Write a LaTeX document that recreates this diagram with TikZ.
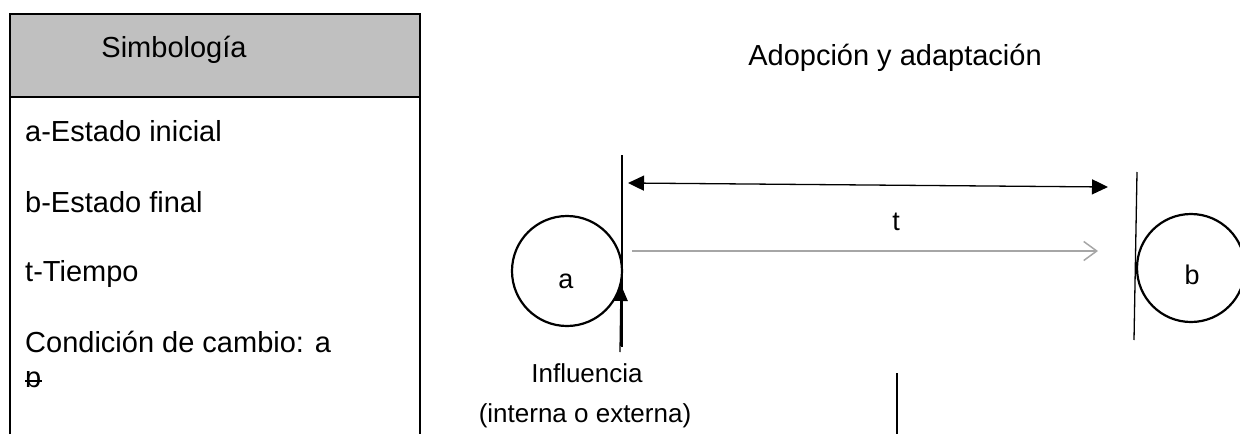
\documentclass[tikz,border=0pt]{standalone}
\usepackage{fontspec}
\setmainfont{Liberation Sans}
\usetikzlibrary{arrows.meta}
\definecolor{hdrgray}{HTML}{C0C0C0}
\definecolor{arrgray}{HTML}{A6A6A6}
\tikzset{
  big/.style={font=\fontsize{29}{34}\selectfont, inner sep=0pt, anchor=base},
  legend/.style={font=\fontsize{29}{34}\selectfont, inner sep=0pt, anchor=base west},
  mid/.style={font=\fontsize{26}{30}\selectfont, inner sep=0pt, anchor=base},
  letter/.style={font=\fontsize{27}{32}\selectfont, inner sep=0pt, anchor=base},
  frame/.style={line width=2pt, black},
  state/.style={circle, draw, line width=2.2pt, minimum size=#1, inner sep=0pt},
  thin/.style={line width=1.3pt, black},
  blacktip/.style={-{Triangle[length=16pt, width=14pt]}},
}
\begin{document}
\begin{tikzpicture}[x=1pt, y=-1pt]
\useasboundingbox (0,0) rectangle (1240,434);
% legend box
\fill[hdrgray] (10,14) rectangle (420,97);
\draw[frame] (10,434) -- (10,14) -- (420,14) -- (420,434);
\draw[frame] (10,97) -- (420,97);
\node[big] (simb) at (174,57) {Simbología};
\node[legend] (la) at (25,141) {a-Estado inicial};
\node[legend] (lb) at (25,212) {b-Estado final};
\node[legend] (lt) at (25,281) {t-Tiempo};
\node[legend] (lc) at (25,352) {Condición de cambio: a};
\begin{scope}
  \clip (15,371) rectangle (60,395);
  \node[legend] (lbb) at (25,387) {b};
\end{scope}
\draw[line width=1.3pt] (25,381) -- (42,381);
% title
\node[big] (title) at (895,65) {Adopción y adaptación};
% states
\node[state=110pt] (a) at (567,271) {};
\node[letter] (alab) at (566,288) {a};
\node[state=108pt] (b) at (1191,268) {};
\node[letter] (blab) at (1192,284) {b};
% vertical limit lines
\coordinate (l1t) at (622,155);
\coordinate (l1b) at (622,347);
\coordinate (l2t) at (1137,172);
\coordinate (l2b) at (1134,340);
\draw[thin] (l1t) -- (l1b);
\draw[thin] (l2t) -- (l2b);
% time double arrow
\coordinate (dL) at (628,183);
\coordinate (dR) at (1108,187);
\draw[thin, {Triangle[length=16pt, width=15pt]}-{Triangle[length=16pt, width=15pt]}] (dL) -- (dR);
\node[letter] (tlab) at (896,230) {t};
% gray transition arrow
\coordinate (gS) at (632,251);
\coordinate (gE) at (1098,251);
\draw[arrgray, line width=1.5pt, -{Straight Barb[length=13pt, width=19pt, line width=1.5pt]}] (gS) -- (gE);
% influence arrow
\coordinate (iS) at (620,352);
\coordinate (iE) at (621,285);
\draw[thin, blacktip] (iS) -- (iE);
\node[mid] (infl) at (587,382) {Influencia};
\node[mid] (infl2) at (585,422) {(interna o externa)};
% bottom line
\coordinate (l3t) at (897,373);
\coordinate (l3b) at (897,434);
\draw[thin] (l3t) -- (l3b);
\end{tikzpicture}
\end{document}
